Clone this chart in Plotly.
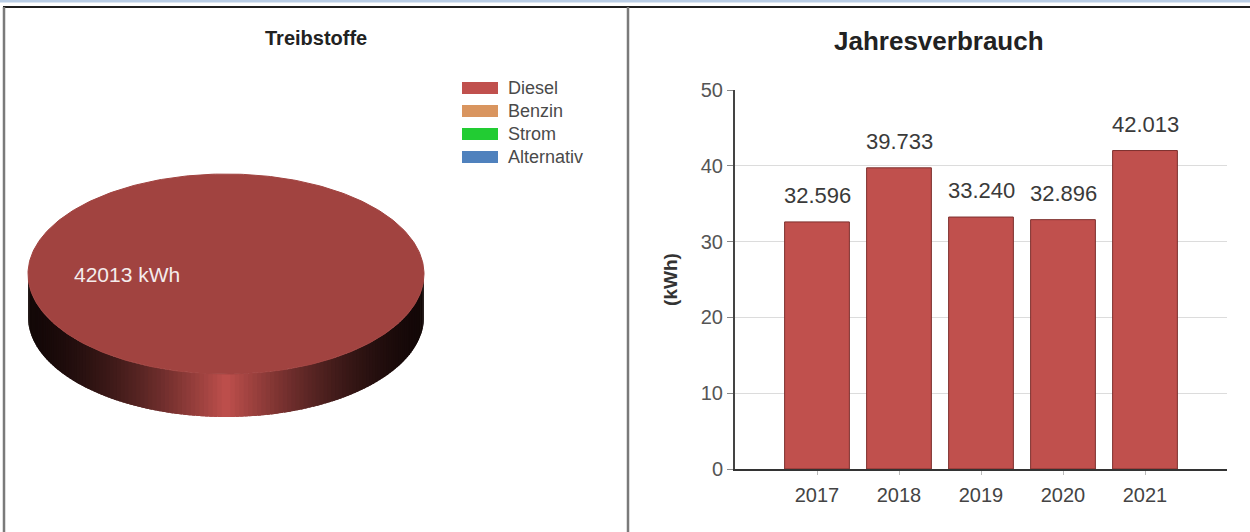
import numpy as np
import plotly.graph_objects as go

# Fuel mix for the current year (kWh)
fuel_types = ["Diesel", "Benzin", "Strom", "Alternativ"]
fuel_kwh = [42013, 0, 0, 0]
fuel_colors = ["#c0504d", "#d9955f", "#22cc33", "#4f81bd"]

# Annual consumption
years = ["2017", "2018", "2019", "2020", "2021"]
consumption = [32.596, 39.733, 33.240, 32.896, 42.013]

W, H = 1250, 532
FONT = "Liberation Sans, Arial, sans-serif"

# 3D pie layout in pixel space of the full-page helper axes
CX, CY, RX, RY, DEPTH = 226, 274, 198, 100, 43


def hex_rgb(h):
    h = h.lstrip("#")
    return tuple(int(h[i:i + 2], 16) for i in (0, 2, 4))


def shade(h, k):
    r, g, b = hex_rgb(h)
    return "rgb({},{},{})".format(int(r * k), int(g * k), int(b * k))


fig = go.Figure()

total = float(sum(fuel_kwh))
start = 0.0
for name, val, col in zip(fuel_types, fuel_kwh, fuel_colors):
    if val <= 0:
        continue
    a0 = start
    a1 = start + 2 * np.pi * val / total
    start = a1

    # curved outer wall (front half only), shaded like a lit cylinder
    lo, hi = max(a0, 0.0), min(a1, np.pi)
    if hi > lo:
        edges = np.linspace(lo, hi, 141)
        dt = edges[1] - edges[0]
        for t0, t1 in zip(edges[:-1], edges[1:]):
            ts = np.linspace(t0, min(t1 + 0.8 * dt, hi), 5)
            xs = CX + RX * np.cos(ts)
            ys = CY + RY * np.sin(ts)
            px = np.concatenate([xs, xs[::-1]])
            py = np.concatenate([ys, ys[::-1] + DEPTH])
            f = (1 - abs(np.cos((t0 + t1) / 2))) ** 1.6
            c = shade(col, 0.1 + 0.9 * f)
            fig.add_trace(go.Scatter(
                x=px, y=py, xaxis="x", yaxis="y", mode="lines",
                fill="toself", fillcolor=c, line=dict(width=0),
                hoverinfo="skip", showlegend=False))

    # top face
    ts = np.linspace(a0, a1, 361)
    xs = CX + RX * np.cos(ts)
    ys = CY + RY * np.sin(ts)
    if a1 - a0 < 2 * np.pi - 1e-9:
        xs = np.concatenate([[CX], xs, [CX]])
        ys = np.concatenate([[CY], ys, [CY]])
    top = shade(col, 0.84)
    fig.add_trace(go.Scatter(
        x=xs, y=ys, xaxis="x", yaxis="y", mode="lines",
        fill="toself", fillcolor=top, line=dict(color=top, width=1),
        name=name, hovertemplate=f"{name}: {val} kWh<extra></extra>",
        showlegend=False))

    tm = (a0 + a1) / 2
    fig.add_annotation(
        x=CX + 0.5 * RX * np.cos(tm), y=CY + 0.5 * RY * np.sin(tm),
        xref="x", yref="y", text=f"{val} kWh", showarrow=False,
        font=dict(family=FONT, size=21, color="#f4ecec"))

# pie legend
for i, (name, col) in enumerate(zip(fuel_types, fuel_colors)):
    yc = 88 + i * 23
    fig.add_shape(type="rect", xref="x", yref="y", x0=462, x1=498,
                  y0=yc - 6, y1=yc + 6, fillcolor=col, line=dict(width=0))
    fig.add_annotation(x=506, y=yc, xref="x", yref="y", text=name,
                       showarrow=False, xanchor="left",
                       font=dict(family=FONT, size=18, color="#4a4a4a"))

# annual consumption bars
fig.add_trace(go.Bar(
    x=years, y=consumption, xaxis="x2", yaxis="y2", width=0.79,
    marker=dict(color="#c0504d", line=dict(color="#7d2f2d", width=1)),
    hovertemplate="%{x}: %{y:.3f}<extra></extra>", showlegend=False))
for i, v in enumerate(consumption):
    fig.add_annotation(x=i, y=v, xref="x2", yref="y2", text=f"{v:.3f}",
                       showarrow=False, yanchor="bottom", yshift=12,
                       font=dict(family=FONT, size=22, color="#3a3a3a"))

# panel titles
fig.add_annotation(x=316, y=38, xref="x", yref="y", text="<b>Treibstoffe</b>",
                   showarrow=False, font=dict(family=FONT, size=20, color="#222222"))
fig.add_annotation(x=939, y=41, xref="x", yref="y", text="<b>Jahresverbrauch</b>",
                   showarrow=False, font=dict(family=FONT, size=26, color="#222222"))

# page frame
fig.add_shape(type="rect", xref="x", yref="y", x0=0, x1=W, y0=0, y1=2.5,
              fillcolor="#b9cde5", line=dict(width=0), layer="above")
fig.add_shape(type="line", xref="x", yref="y", x0=3, x1=W, y0=7, y1=7,
              line=dict(color="#1e1e1e", width=2), layer="above")
fig.add_shape(type="line", xref="x", yref="y", x0=4, x1=4, y0=7, y1=H,
              line=dict(color="#7a7a7a", width=2.5), layer="above")
fig.add_shape(type="line", xref="x", yref="y", x0=628, x1=628, y0=7, y1=H,
              line=dict(color="#7a7a7a", width=2.5), layer="above")

fig.update_layout(
    width=W, height=H, autosize=False,
    margin=dict(l=0, r=0, t=0, b=0, pad=0, autoexpand=False),
    paper_bgcolor="white", plot_bgcolor="rgba(0,0,0,0)",
    showlegend=False, font=dict(family=FONT),
    xaxis=dict(domain=[0, 1], range=[0, W], visible=False, fixedrange=True,
               automargin=False),
    yaxis=dict(domain=[0, 1], range=[H, 0], visible=False, fixedrange=True,
               automargin=False),
    xaxis2=dict(domain=[735 / W, 1227 / W], anchor="y2", type="category",
                range=[-1, 5], showline=True, linecolor="#333333", linewidth=2,
                ticks="outside", ticklen=4, tickcolor="#bbbbbb",
                showgrid=False, automargin=False, ticklabelstandoff=3,
                tickfont=dict(size=20, color="#444444")),
    yaxis2=dict(domain=[(H - 469) / H, (H - 90) / H], anchor="x2",
                range=[0, 50], dtick=10, showline=True, linecolor="#444444",
                linewidth=2, ticks="outside", ticklen=6, tickcolor="#888888",
                gridcolor="#dcdcdc", gridwidth=1, zeroline=False,
                automargin=False,
                tickfont=dict(size=20, color="#555555"),
                title=dict(text="<b>(kWh)</b>", standoff=18,
                           font=dict(size=19, color="#333333"))),
)

fig.write_html("out.html")
